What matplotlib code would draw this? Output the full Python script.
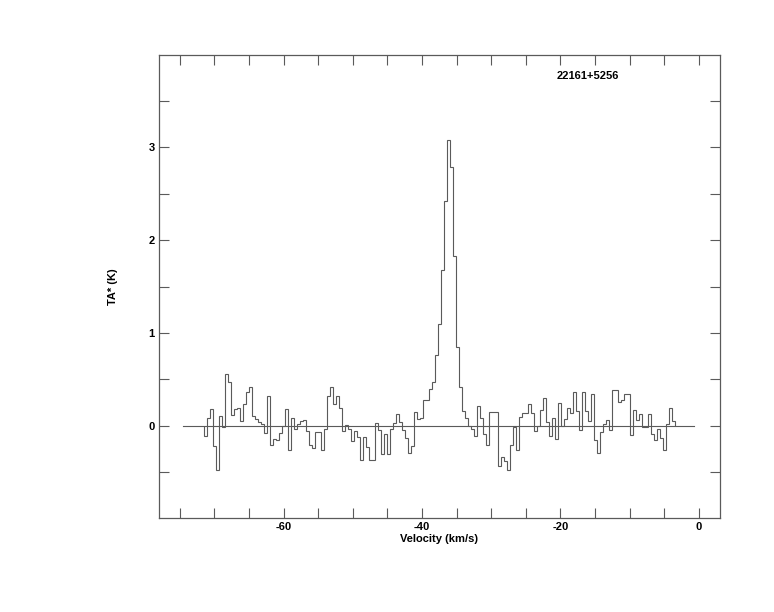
import numpy as np
import matplotlib
matplotlib.use("Agg")
import matplotlib.pyplot as plt
from matplotlib.ticker import MultipleLocator, FixedLocator

# spectrum: channel grid and antenna temperature per channel (K)
v_start = -71.47
dv = 0.433
ta = [
    -0.11, 0.09, 0.18, -0.22, -0.47, 0.11, -0.01, 0.56, 0.47, 0.12,
    0.18, 0.19, 0.05, 0.24, 0.36, 0.42, 0.11, 0.08, 0.04, 0.02,
    -0.08, 0.32, -0.21, -0.14, -0.15, -0.08, 0.00, 0.18, -0.26, 0.09,
    -0.03, 0.02, 0.05, 0.06, -0.05, -0.20, -0.24, -0.07, -0.07, -0.26,
    -0.03, 0.32, 0.42, 0.24, 0.32, 0.19, -0.05, 0.01, -0.03, -0.16,
    -0.05, -0.12, -0.37, -0.12, -0.23, -0.37, -0.37, 0.03, -0.04, -0.30,
    -0.09, -0.30, -0.03, 0.03, 0.13, 0.04, -0.04, -0.13, -0.29, -0.22,
    0.15, 0.07, 0.09, 0.28, 0.28, 0.40, 0.47, 0.76, 1.10, 1.68,
    2.42, 3.08, 2.79, 1.83, 0.85, 0.42, 0.16, 0.09, 0.00, -0.03,
    -0.11, 0.22, 0.09, -0.09, -0.20, 0.15, 0.15, 0.15, -0.43, -0.33,
    -0.38, -0.47, -0.20, -0.01, -0.26, 0.10, 0.14, 0.14, 0.24, 0.14,
    -0.05, 0.00, 0.17, 0.30, 0.04, -0.11, 0.09, -0.14, 0.25, 0.00,
    0.08, 0.19, 0.14, 0.37, 0.16, -0.04, 0.36, 0.16, 0.05, 0.34,
    -0.15, -0.29, -0.07, 0.02, 0.06, -0.04, 0.39, 0.39, 0.26, 0.28,
    0.34, 0.34, -0.10, 0.17, 0.06, 0.13, -0.01, -0.01, 0.13, -0.09,
    -0.15, -0.03, -0.13, -0.26, 0.02, 0.19, 0.05,
]
baseline_range = [-74.6, -0.7]
source = "22161+5256"

x_major = [-60, -40, -20, 0]
y_major = [0, 1, 2, 3]

plt.rcParams['font.family'] = ['Liberation Sans', 'DejaVu Sans']
plt.rcParams['font.weight'] = 'bold'
plt.rcParams['axes.unicode_minus'] = False

edges = v_start + dv * np.arange(len(ta) + 1)

fig = plt.figure(figsize=(7.74, 6.12), dpi=100)
ax = fig.add_axes([159 / 774, 1 - 518 / 612, (720 - 159) / 774, (518 - 55) / 612])

grey = '#5a5a5a'
ax.stairs(ta, edges, color=grey, lw=0.8)
ax.plot(baseline_range, [0, 0], color=grey, lw=0.8)

ax.set_xlim(-78.0, 3.05)
ax.set_ylim(-0.99, 3.99)

ax.xaxis.set_major_locator(FixedLocator(x_major))
ax.xaxis.set_minor_locator(MultipleLocator(5))
ax.yaxis.set_major_locator(FixedLocator(y_major))
ax.yaxis.set_minor_locator(MultipleLocator(0.5))
ax.tick_params(which='both', direction='in', top=True, right=True,
               length=7, width=0.8, color=grey, labelsize=8, pad=3)

for s in ax.spines.values():
    s.set_color(grey)
    s.set_linewidth(0.9)

ax.set_xlabel("Velocity (km/s)", fontsize=8, fontweight='bold', labelpad=1)
ax.set_ylabel("TA* (K)", fontsize=8, fontweight='bold', labelpad=22)
ax.text(0.765, 0.955, source, transform=ax.transAxes, fontsize=8,
        fontweight='bold', ha='center', va='center')

fig.savefig("out.png", dpi=100)
plt.close(fig)
